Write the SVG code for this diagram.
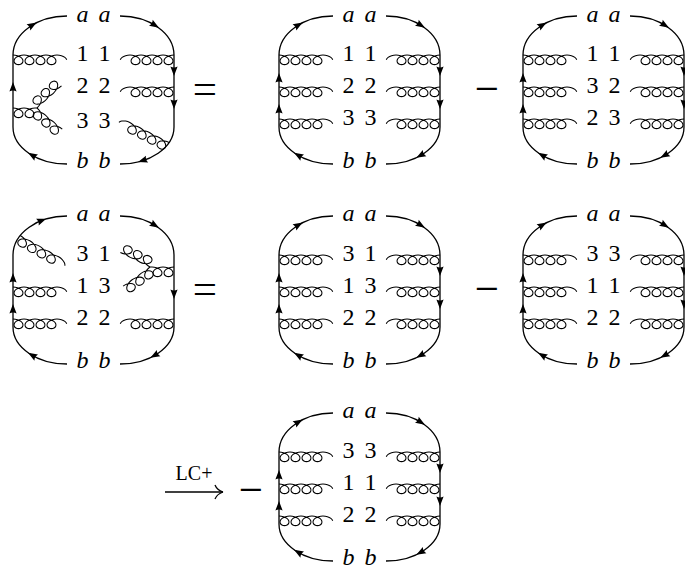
<svg xmlns="http://www.w3.org/2000/svg" width="685" height="576" viewBox="0 0 685 576">
<defs>
<style>
.f{fill:none;stroke:#000;stroke-width:1.3}
.g{fill:none;stroke:#000;stroke-width:1.05}
.t{font-family:"Liberation Serif","Times New Roman",serif;font-size:24px;text-anchor:middle;fill:#000}
.i{font-style:italic}
.op{font-family:"Liberation Serif","Times New Roman",serif;font-size:43px;text-anchor:middle;fill:#000}
.lc{font-family:"Liberation Serif","Times New Roman",serif;font-size:20px;text-anchor:middle;fill:#000}
</style>
<path id="g4" class="g" d="M0,0 c1.527,0 3.054,0.224 4.417,0.643 c1.363,0.419 2.562,1.031 3.478,1.757 c0.916,0.726 1.549,1.562 1.854,2.4 c0.305,0.838 0.283,1.674 -0.022,2.4 c-0.305,0.726 -0.893,1.338 -1.646,1.757 c-0.753,0.419 -1.668,0.643 -2.584,0.643 c-0.916,0 -1.831,-0.224 -2.584,-0.643 c-0.753,-0.419 -1.341,-1.031 -1.646,-1.757 c-0.305,-0.726 -0.327,-1.562 -0.022,-2.4 c0.305,-0.838 0.938,-1.674 1.854,-2.4 c0.916,-0.726 2.115,-1.338 3.478,-1.757 c1.363,-0.419 2.890,-0.643 4.417,-0.643 c1.527,0 3.054,0.224 4.417,0.643 c1.363,0.419 2.562,1.031 3.478,1.757 c0.916,0.726 1.549,1.562 1.854,2.4 c0.305,0.838 0.283,1.674 -0.022,2.4 c-0.305,0.726 -0.893,1.338 -1.646,1.757 c-0.753,0.419 -1.668,0.643 -2.584,0.643 c-0.916,0 -1.831,-0.224 -2.584,-0.643 c-0.753,-0.419 -1.341,-1.031 -1.646,-1.757 c-0.305,-0.726 -0.327,-1.562 -0.022,-2.4 c0.305,-0.838 0.938,-1.674 1.854,-2.4 c0.916,-0.726 2.115,-1.338 3.478,-1.757 c1.363,-0.419 2.890,-0.643 4.417,-0.643 c1.527,0 3.054,0.224 4.417,0.643 c1.363,0.419 2.562,1.031 3.478,1.757 c0.916,0.726 1.549,1.562 1.854,2.4 c0.305,0.838 0.283,1.674 -0.022,2.4 c-0.305,0.726 -0.893,1.338 -1.646,1.757 c-0.753,0.419 -1.668,0.643 -2.584,0.643 c-0.916,0 -1.831,-0.224 -2.584,-0.643 c-0.753,-0.419 -1.341,-1.031 -1.646,-1.757 c-0.305,-0.726 -0.327,-1.562 -0.022,-2.4 c0.305,-0.838 0.938,-1.674 1.854,-2.4 c0.916,-0.726 2.115,-1.338 3.478,-1.757 c1.363,-0.419 2.890,-0.643 4.417,-0.643 c1.527,0 3.054,0.224 4.417,0.643 c1.363,0.419 2.562,1.031 3.478,1.757 c0.916,0.726 1.549,1.562 1.854,2.4 c0.305,0.838 0.283,1.674 -0.022,2.4 c-0.305,0.726 -0.893,1.338 -1.646,1.757 c-0.753,0.419 -1.668,0.643 -2.584,0.643 c-0.916,0 -1.831,-0.224 -2.584,-0.643 c-0.753,-0.419 -1.341,-1.031 -1.646,-1.757 c-0.305,-0.726 -0.327,-1.562 -0.022,-2.4 c0.305,-0.838 0.938,-1.674 1.854,-2.4 c0.916,-0.726 2.115,-1.338 3.478,-1.757 c1.363,-0.419 2.890,-0.643 4.417,-0.643 c1.527,0 3.054,0.224 4.417,0.643 c1.363,0.419 2.562,1.031 3.478,1.757 c0.916,0.726 1.549,1.562 1.854,2.4"/>
<path id="g3" class="g" d="M0,0 c1.527,0 3.054,0.224 4.417,0.643 c1.363,0.419 2.562,1.031 3.478,1.757 c0.916,0.726 1.549,1.562 1.854,2.4 c0.305,0.838 0.283,1.674 -0.022,2.4 c-0.305,0.726 -0.893,1.338 -1.646,1.757 c-0.753,0.419 -1.668,0.643 -2.584,0.643 c-0.916,0 -1.831,-0.224 -2.584,-0.643 c-0.753,-0.419 -1.341,-1.031 -1.646,-1.757 c-0.305,-0.726 -0.327,-1.562 -0.022,-2.4 c0.305,-0.838 0.938,-1.674 1.854,-2.4 c0.916,-0.726 2.115,-1.338 3.478,-1.757 c1.363,-0.419 2.890,-0.643 4.417,-0.643 c1.527,0 3.054,0.224 4.417,0.643 c1.363,0.419 2.562,1.031 3.478,1.757 c0.916,0.726 1.549,1.562 1.854,2.4 c0.305,0.838 0.283,1.674 -0.022,2.4 c-0.305,0.726 -0.893,1.338 -1.646,1.757 c-0.753,0.419 -1.668,0.643 -2.584,0.643 c-0.916,0 -1.831,-0.224 -2.584,-0.643 c-0.753,-0.419 -1.341,-1.031 -1.646,-1.757 c-0.305,-0.726 -0.327,-1.562 -0.022,-2.4 c0.305,-0.838 0.938,-1.674 1.854,-2.4 c0.916,-0.726 2.115,-1.338 3.478,-1.757 c1.363,-0.419 2.890,-0.643 4.417,-0.643 c1.527,0 3.054,0.224 4.417,0.643 c1.363,0.419 2.562,1.031 3.478,1.757 c0.916,0.726 1.549,1.562 1.854,2.4 c0.305,0.838 0.283,1.674 -0.022,2.4 c-0.305,0.726 -0.893,1.338 -1.646,1.757 c-0.753,0.419 -1.668,0.643 -2.584,0.643 c-0.916,0 -1.831,-0.224 -2.584,-0.643 c-0.753,-0.419 -1.341,-1.031 -1.646,-1.757 c-0.305,-0.726 -0.327,-1.562 -0.022,-2.4 c0.305,-0.838 0.938,-1.674 1.854,-2.4 c0.916,-0.726 2.115,-1.338 3.478,-1.757 c1.363,-0.419 2.890,-0.643 4.417,-0.643"/>
<path id="g2" class="g" d="M0,0 c1.527,0 3.054,0.224 4.417,0.643 c1.363,0.419 2.562,1.031 3.478,1.757 c0.916,0.726 1.549,1.562 1.854,2.4 c0.305,0.838 0.283,1.674 -0.022,2.4 c-0.305,0.726 -0.893,1.338 -1.646,1.757 c-0.753,0.419 -1.668,0.643 -2.584,0.643 c-0.916,0 -1.831,-0.224 -2.584,-0.643 c-0.753,-0.419 -1.341,-1.031 -1.646,-1.757 c-0.305,-0.726 -0.327,-1.562 -0.022,-2.4 c0.305,-0.838 0.938,-1.674 1.854,-2.4 c0.916,-0.726 2.115,-1.338 3.478,-1.757 c1.363,-0.419 2.890,-0.643 4.417,-0.643 c1.527,0 3.054,0.224 4.417,0.643 c1.363,0.419 2.562,1.031 3.478,1.757 c0.916,0.726 1.549,1.562 1.854,2.4 c0.305,0.838 0.283,1.674 -0.022,2.4 c-0.305,0.726 -0.893,1.338 -1.646,1.757 c-0.753,0.419 -1.668,0.643 -2.584,0.643 c-0.916,0 -1.831,-0.224 -2.584,-0.643 c-0.753,-0.419 -1.341,-1.031 -1.646,-1.757 c-0.305,-0.726 -0.327,-1.562 -0.022,-2.4 c0.305,-0.838 0.938,-1.674 1.854,-2.4 c0.916,-0.726 2.115,-1.338 3.478,-1.757 c1.363,-0.419 2.890,-0.643 4.417,-0.643 h2"/>
<path id="ah" d="M5,0 L-4.5,-3.6 Q-2.5,0 -4.5,3.6 Z" fill="#000"/>
<path id="fl" class="f" d="M54,1 A54,39 0 0 0 0,40 V112 A54,37 0 0 0 54,149"/>
<path id="fr" class="f" d="M107,1 A54,39 0 0 1 161,40 V112 A54,37 0 0 1 107,149"/>
<g id="std">
<use href="#fl"/><use href="#fr"/>
<use href="#ah" transform="translate(19.3,10.1) rotate(-31.2)"/>
<use href="#ah" transform="translate(141.7,10.1) rotate(31.2)"/>
<use href="#ah" transform="translate(19.3,140.3) rotate(-150.1)"/>
<use href="#ah" transform="translate(141.7,140.3) rotate(150.1)"/>
<use href="#ah" transform="translate(0,63) rotate(-90)"/>
<use href="#ah" transform="translate(0,94) rotate(-90)"/>
<use href="#ah" transform="translate(161,56) rotate(90)"/>
<use href="#ah" transform="translate(161,89) rotate(90)"/>
<use href="#g4" transform="translate(0,40)"/>
<use href="#g4" transform="translate(0,72)"/>
<use href="#g4" transform="translate(0,104)"/>
<use href="#g4" transform="translate(161,40) scale(-1,1)"/>
<use href="#g4" transform="translate(161,72) scale(-1,1)"/>
<use href="#g4" transform="translate(161,104) scale(-1,1)"/>
</g>
</defs>

<g id="d1" transform="translate(13,15)">
<use href="#fl"/><use href="#fr"/>
<use href="#ah" transform="translate(19.3,10.1) rotate(-31.2)"/>
<use href="#ah" transform="translate(141.7,10.1) rotate(31.2)"/>
<use href="#ah" transform="translate(19.3,140.3) rotate(-150.1)"/>
<use href="#ah" transform="translate(129.8,145.5) rotate(162.3)"/>
<use href="#ah" transform="translate(0,72) rotate(-90)"/>
<use href="#ah" transform="translate(161,56) rotate(90)"/>
<use href="#ah" transform="translate(161,89) rotate(90)"/>
<use href="#g4" transform="translate(0,40)"/>
<use href="#g4" transform="translate(161,40) scale(-1,1)"/>
<use href="#g4" transform="translate(161,72) scale(-1,1)"/>
<use href="#g4" transform="translate(156,127.5) rotate(27) scale(-1,1)"/>
<use href="#g2" transform="translate(0,93)"/>
<use href="#g3" transform="translate(24,93) rotate(-42) scale(1,-1)"/>
<use href="#g3" transform="translate(24,93) rotate(40)"/>
<text class="t i" x="69.5 80.5 91.5" y="6.5">a a</text>
<text class="t" x="69.5 80.5 91.5" y="46">1 1</text>
<text class="t" x="69.5 80.5 91.5" y="78">2 2</text>
<text class="t" x="69.5 80.5 91.5" y="112.5">3 3</text>
<text class="t i" x="69.5 80.5 91.5" y="153">b b</text>
</g>

<g id="d2" transform="translate(279,15)">
<use href="#std"/>
<text class="t i" x="69.5 80.5 91.5" y="6.5">a a</text>
<text class="t" x="69.5 80.5 91.5" y="46">1 1</text>
<text class="t" x="69.5 80.5 91.5" y="78">2 2</text>
<text class="t" x="69.5 80.5 91.5" y="110">3 3</text>
<text class="t i" x="69.5 80.5 91.5" y="153">b b</text>
</g>

<g id="d3" transform="translate(523,15)">
<use href="#std"/>
<text class="t i" x="69.5 80.5 91.5" y="6.5">a a</text>
<text class="t" x="69.5 80.5 91.5" y="46">1 1</text>
<text class="t" x="69.5 80.5 91.5" y="78">3 2</text>
<text class="t" x="69.5 80.5 91.5" y="110">2 3</text>
<text class="t i" x="69.5 80.5 91.5" y="153">b b</text>
</g>

<g id="d4" transform="translate(13,215)">
<use href="#fl"/><use href="#fr"/>
<use href="#ah" transform="translate(28.6,5.6) rotate(-21)"/>
<use href="#ah" transform="translate(141.7,10.1) rotate(31.2)"/>
<use href="#ah" transform="translate(19.3,140.3) rotate(-150.1)"/>
<use href="#ah" transform="translate(141.7,140.3) rotate(150.1)"/>
<use href="#ah" transform="translate(0,63) rotate(-90)"/>
<use href="#ah" transform="translate(0,94) rotate(-90)"/>
<use href="#ah" transform="translate(161,79) rotate(90)"/>
<use href="#g4" transform="translate(7.2,20.5) rotate(29)"/>
<use href="#g4" transform="translate(0,72)"/>
<use href="#g4" transform="translate(0,104)"/>
<use href="#g4" transform="translate(161,104) scale(-1,1)"/>
<use href="#g2" transform="translate(161,52) scale(-1,1)"/>
<use href="#g3" transform="translate(137,52) rotate(26) scale(-1,-1)"/>
<use href="#g3" transform="translate(137,52) rotate(-35.4) scale(-1,1)"/>
<text class="t i" x="69.5 80.5 91.5" y="5.5">a a</text>
<text class="t" x="69.5 80.5 91.5" y="46">3 1</text>
<text class="t" x="69.5 80.5 91.5" y="78">1 3</text>
<text class="t" x="69.5 80.5 91.5" y="110">2 2</text>
<text class="t i" x="69.5 80.5 91.5" y="153">b b</text>
</g>

<g id="d5" transform="translate(279,215)">
<use href="#std"/>
<text class="t i" x="69.5 80.5 91.5" y="5.5">a a</text>
<text class="t" x="69.5 80.5 91.5" y="46">3 1</text>
<text class="t" x="69.5 80.5 91.5" y="78">1 3</text>
<text class="t" x="69.5 80.5 91.5" y="110">2 2</text>
<text class="t i" x="69.5 80.5 91.5" y="153">b b</text>
</g>

<g id="d6" transform="translate(523,215)">
<use href="#std"/>
<text class="t i" x="69.5 80.5 91.5" y="5.5">a a</text>
<text class="t" x="69.5 80.5 91.5" y="46">3 3</text>
<text class="t" x="69.5 80.5 91.5" y="78">1 1</text>
<text class="t" x="69.5 80.5 91.5" y="110">2 2</text>
<text class="t i" x="69.5 80.5 91.5" y="153">b b</text>
</g>

<g id="d7" transform="translate(279,412)">
<use href="#std"/>
<text class="t i" x="69.5 80.5 91.5" y="5.5">a a</text>
<text class="t" x="69.5 80.5 91.5" y="46">3 3</text>
<text class="t" x="69.5 80.5 91.5" y="78">1 1</text>
<text class="t" x="69.5 80.5 91.5" y="110">2 2</text>
<text class="t i" x="69.5 80.5 91.5" y="153">b b</text>
</g>

<g id="operators">
<text class="op" x="205" y="103">=</text>
<text class="op" x="487" y="103">−</text>
<text class="op" x="205" y="303">=</text>
<text class="op" x="487" y="303">−</text>
<text class="op" x="251" y="504">−</text>
<text class="lc" x="194" y="480">LC+</text>
<g id="lc-arrow" class="f">
<path d="M165,492 H223"/>
<path d="M223,492 Q217,490 215,485 M223,492 Q217,494 215,499"/>
</g>
</g>
</svg>
